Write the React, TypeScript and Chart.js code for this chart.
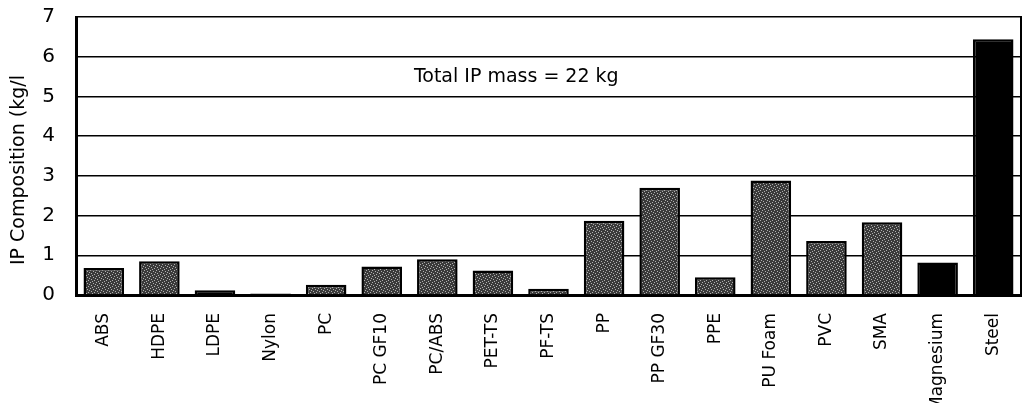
import React, { useEffect, useRef } from "react";
import { Chart, registerables } from "chart.js";

Chart.register(...registerables);

const categories = [
  "ABS", "HDPE", "LDPE", "Nylon", "PC", "PC GF10", "PC/ABS", "PET-TS", "PF-TS",
  "PP", "PP GF30", "PPE", "PU Foam", "PVC", "SMA", "Magnesium", "Steel",
];
const composition = [
  0.68, 0.85, 0.12, 0.04, 0.26, 0.72, 0.9, 0.62, 0.16,
  1.87, 2.7, 0.45, 2.88, 1.36, 1.83, 0.82, 6.44,
];
const yTicks = [0, 1, 2, 3, 4, 5, 6, 7];
const yTitle = "IP Composition (kg/l";
const annotationText = "Total IP mass = 22 kg";
const annotationAt = { x: 7.42, y: 5.5 };
const solidBars = ["LDPE", "Nylon", "Magnesium", "Steel"];

const FONT = "'DejaVu Sans', sans-serif";

function makeStipple(): CanvasPattern | string {
  const c = document.createElement("canvas");
  c.width = 6;
  c.height = 6;
  const g = c.getContext("2d");
  if (!g) return "#555";
  g.fillStyle = "#3a3a3a";
  g.fillRect(0, 0, 6, 6);
  g.fillStyle = "#b0b0b0";
  const dots = [[0, 0], [3, 1], [1, 3], [4, 4], [5, 2], [2, 5]];
  dots.forEach(([x, y]) => g.fillRect(x, y, 1, 1));
  const p = g.createPattern(c, "repeat");
  return p || "#555";
}

const framePlugin = {
  id: "frame",
  afterDraw(chart: any) {
    const { ctx, chartArea, scales } = chart;
    ctx.save();
    ctx.strokeStyle = "#000";
    ctx.lineWidth = 2;
    ctx.beginPath();
    ctx.moveTo(chartArea.right, chartArea.top - 1);
    ctx.lineTo(chartArea.right, chartArea.bottom);
    ctx.stroke();
    ctx.fillStyle = "#000";
    ctx.font = `19px ${FONT}`;
    ctx.textAlign = "center";
    ctx.textBaseline = "middle";
    const ax = scales.x.getPixelForValue(annotationAt.x);
    const ay = scales.y.getPixelForValue(annotationAt.y);
    ctx.fillText(annotationText, ax, ay);
    ctx.translate(19, 265);
    ctx.rotate(-Math.PI / 2);
    ctx.font = `19px ${FONT}`;
    ctx.textAlign = "left";
    ctx.textBaseline = "middle";
    ctx.fillText(yTitle, 0, 0);
    ctx.restore();
  },
};

export default function App() {
  const ref = useRef<HTMLCanvasElement | null>(null);

  useEffect(() => {
    if (!ref.current) return;
    const stipple = makeStipple();
    const colors = categories.map((c) => (solidBars.includes(c) ? "#000000" : stipple));
    const chart = new Chart(ref.current, {
      type: "bar",
      data: {
        labels: categories,
        datasets: [
          {
            data: composition,
            backgroundColor: colors as any,
            borderColor: "#000",
            borderWidth: 2.5,
            barPercentage: 0.73,
            categoryPercentage: 1,
          },
        ],
      },
      options: {
        animation: false,
        responsive: false,
        layout: { padding: { top: 17, right: 2, left: 0, bottom: 0 } },
        plugins: { legend: { display: false }, tooltip: { enabled: false } },
        scales: {
          x: {
            grid: { display: false },
            border: { display: true, color: "#000", width: 3 },
            ticks: {
              color: "#000",
              font: { family: FONT, size: 17 },
              minRotation: 90,
              maxRotation: 90,
              padding: 10,
              autoSkip: false,
            },
            afterFit(scale: any) {
              scale.height = 108;
              scale.paddingLeft = 0;
              scale.paddingRight = 0;
              scale.paddingTop = 0;
              scale.paddingBottom = 0;
            },
          },
          y: {
            min: 0,
            max: 7,
            afterBuildTicks(scale: any) {
              scale.ticks = yTicks.map((v) => ({ value: v }));
            },
            grid: { color: "#000", lineWidth: 1.5, drawTicks: false },
            border: { display: true, color: "#000", width: 3 },
            ticks: {
              color: "#000",
              font: { family: FONT, size: 20 },
              padding: 21,
            },
            afterFit(scale: any) {
              scale.width = 76;
              scale.paddingTop = 0;
              scale.paddingBottom = 0;
            },
          },
        },
      },
      plugins: [framePlugin],
    });
    return () => chart.destroy();
  }, []);

  return (
    <div style={{ position: "fixed", left: 0, top: 0, width: 1023, height: 403, background: "#fff" }}>
      <canvas ref={ref} width={1023} height={403} />
    </div>
  );
}
